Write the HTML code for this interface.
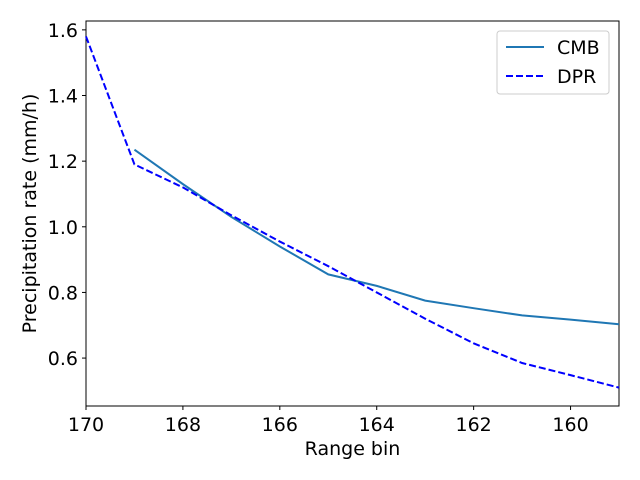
<!DOCTYPE html>
<html><head><meta charset="utf-8"><style>
body{margin:0;background:#fff;}
svg{display:block;font-family:"DejaVu Sans","Liberation Sans",sans-serif;}
</style></head><body>
<svg id="chart" width="640" height="480">
<g id="plot"></g>
</svg>
<script>
const cmbBins=[169,168,167,166,165,164,163,162,161,160,159];
const cmbValues=[1.235,1.13,1.03,0.94,0.855,0.82,0.775,0.752,0.73,0.717,0.703];
const dprBins=[170,169,168,167,166,165,164,163,162,161,160,159];
const dprValues=[1.58,1.19,1.12,1.035,0.955,0.88,0.8,0.72,0.645,0.585,0.548,0.51];
const xTicks=[170,168,166,164,162,160];
const yTicks=[0.6,0.8,1.0,1.2,1.4,1.6];
const L=86,R=619,T=21,B=406;
const xMin=170,xMax=159,yMin=0.454,yMax=1.627;
const FS=19;
const sx=v=>L+(v-xMin)/(xMax-xMin)*(R-L);
const sy=v=>B-(v-yMin)/(yMax-yMin)*(B-T);
const NS="http://www.w3.org/2000/svg";
const g=document.getElementById('plot');
function mk(t,a){const e=document.createElementNS(NS,t);for(const k in a)e.setAttribute(k,a[k]);g.appendChild(e);return e;}
let e=mk('rect',{x:L,y:T,width:R-L,height:B-T,fill:'none',stroke:'#000','stroke-width':1});


xTicks.forEach(v=>{
 const x=sx(v);
 let t=mk('line',{x1:x,x2:x,y1:B,y2:B+4,stroke:'#000'});
 
 
 let l=mk('text',{x:x,y:B+25,'text-anchor':'middle','font-size':FS});
 l.textContent=v;
 
 
});
yTicks.forEach(v=>{
 const y=sy(v);
 let t=mk('line',{x1:L-4,x2:L,y1:y,y2:y,stroke:'#000'});
 
 
 let l=mk('text',{x:L-8,y:y+7,'text-anchor':'end','font-size':FS});
 l.textContent=v.toFixed(1);
 
 
});
let cp=mk('polyline',{points:cmbBins.map((b,i)=>sx(b)+','+sy(cmbValues[i])).join(' '),fill:'none',stroke:'#1f77b4','stroke-width':2});


let dp=mk('polyline',{points:dprBins.map((b,i)=>sx(b)+','+sy(dprValues[i])).join(' '),fill:'none',stroke:'#0000ff','stroke-width':2,'stroke-dasharray':'7,3'});


let xt=mk('text',{x:(L+R)/2,y:455,'text-anchor':'middle','font-size':FS});
xt.textContent='Range bin';


let yt=mk('text',{x:0,y:0,'text-anchor':'middle','font-size':FS,transform:'translate(36,'+((T+B)/2)+') rotate(-90)'});
yt.textContent='Precipitation rate (mm/h)';


let lg=mk('rect',{x:497,y:31,width:112,height:63,rx:3,fill:'#fff',stroke:'#ccc'});


let l1=mk('line',{x1:506,x2:544,y1:47,y2:47,stroke:'#1f77b4','stroke-width':2});


let t1=mk('text',{x:557,y:54,'font-size':FS});t1.textContent='CMB';


let l2=mk('line',{x1:506,x2:544,y1:76,y2:76,stroke:'#0000ff','stroke-width':2,'stroke-dasharray':'7,3'});


let t2=mk('text',{x:557,y:83,'font-size':FS});t2.textContent='DPR';


</script>
</body></html>
